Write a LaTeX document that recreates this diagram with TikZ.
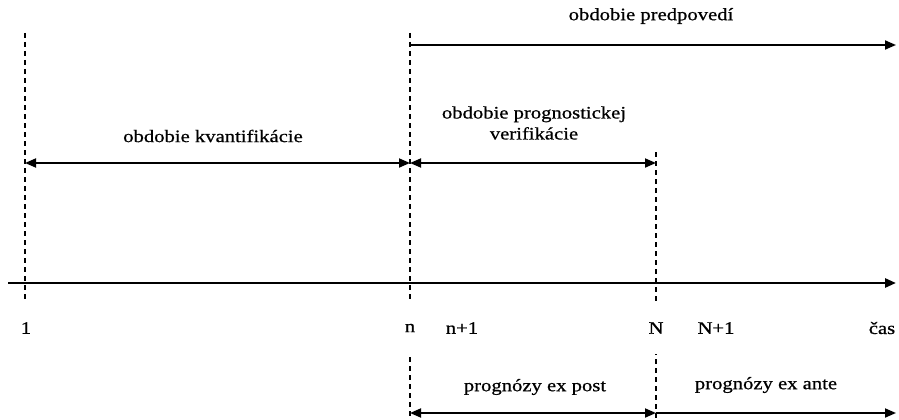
\documentclass[tikz,border=0pt]{standalone}
\usepackage{fontspec}
\setmainfont{Liberation Serif}[FakeStretch=1.18, FakeBold=0.7]
\usetikzlibrary{arrows.meta, positioning}

\tikzset{
  tip/.style={-{Triangle[length=11pt, width=9pt]}},
  guide/.style={dashed, dash pattern=on 5pt off 4pt, line width=1.6pt},
  span/.style={line width=1.8pt, {Triangle[length=11pt, width=9pt]}-{Triangle[length=11pt, width=9pt]}},
  tick/.style={fill=white, inner sep=6pt, minimum height=52pt},
  caption/.style={font=\fontsize{17.5}{21}\selectfont, align=center}
}

\begin{document}
\begin{tikzpicture}[x=1pt, y=-1pt, font=\fontsize{17.5}{21}\selectfont]
      \useasboundingbox (0,0) rectangle (899,420);
      % guide lines
      \coordinate (g1top) at (25,33);
      \coordinate (g1bot) at (25,302);
      \coordinate (gntop) at (410,33);
      \coordinate (gnbot) at (410,420);
      \coordinate (gNtop) at (656,152);
      \coordinate (gNbot) at (656,420);
      \draw[guide] (g1top) -- (g1bot);
      \draw[guide] (gntop) -- (gnbot);
      \draw[guide] (gNtop) -- (gNbot);
      % time axis
      \coordinate (axl) at (8,283);
      \coordinate (axr) at (896,283);
      \draw[tip, line width=2.6pt] (axl) -- (axr);
      % tick labels
      \node[tick] (t1) at (26,328) {1};
      \node[tick] (tn) at (410,328) {n};
      \node[tick] (tn1) at (462,328) {n+1};
      \node[tick] (tN) at (656,328) {N};
      \node[tick] (tN1) at (716,328) {N+1};
      \node[tick] (tcas) at (882,328) {čas};
      % periods
      \coordinate (p1) at (410,45);
      \coordinate (p2) at (896,45);
      \draw[tip, line width=1.8pt] (p1) -- (p2);
      \node[caption] (predp) at (651,16) {obdobie predpovedí};
      \coordinate (k1) at (25,163);
      \coordinate (k2) at (410,163);
      \coordinate (v2) at (656,163);
      \draw[span] (k1) -- (k2);
      \draw[span] (k2) -- (v2);
      \node[caption] (kvant) at (213,136) {obdobie kvantifikácie};
      \node[caption] (verif) at (534,123) {obdobie prognostickej\\verifikácie};
      % forecasts
      \coordinate (f1) at (410,413);
      \coordinate (f2) at (656,413);
      \coordinate (f3) at (896,413);
      \draw[span] (f1) -- (f2);
      \draw[tip, line width=1.8pt] (f2) -- (f3);
      \node[caption] (expost) at (535,387) {prognózy ex post};
      \node[caption] (exante) at (766,385) {prognózy ex ante};
\end{tikzpicture}
\end{document}
